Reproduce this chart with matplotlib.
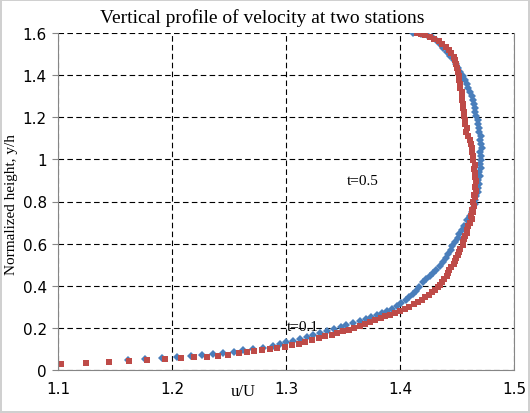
import numpy as np
import matplotlib
matplotlib.use("Agg")
import matplotlib.pyplot as plt

# series (x, y pairs)
red_x = [1.103, 1.125, 1.145, 1.162, 1.178, 1.194, 1.208, 1.219, 1.231, 1.240,
         1.249, 1.259, 1.266, 1.272, 1.279, 1.286, 1.292, 1.299,
         1.305, 1.311, 1.317, 1.323, 1.329, 1.334, 1.340, 1.345, 1.350, 1.355,
         1.360, 1.365, 1.369, 1.374, 1.378, 1.383, 1.387, 1.391, 1.396, 1.400,
         1.404, 1.408, 1.412, 1.416, 1.419, 1.422, 1.425, 1.428, 1.431, 1.433,
         1.435, 1.437, 1.439, 1.441, 1.442, 1.443, 1.445, 1.447, 1.448, 1.449,
         1.451, 1.452, 1.453, 1.455, 1.455, 1.456, 1.457, 1.459, 1.459, 1.460,
         1.461, 1.463, 1.462, 1.464, 1.463, 1.465, 1.464, 1.466, 1.465, 1.467,
         1.466, 1.467, 1.466, 1.466, 1.465, 1.466, 1.464, 1.464, 1.463, 1.463,
         1.462, 1.461, 1.460, 1.458, 1.459, 1.457, 1.457, 1.456, 1.456, 1.455,
         1.455, 1.454, 1.454, 1.454, 1.453, 1.453, 1.452, 1.452, 1.451, 1.450,
         1.449, 1.448, 1.447, 1.445, 1.443, 1.440, 1.437, 1.434, 1.430, 1.426,
         1.422, 1.418, 1.415]
red_y = [0.029, 0.033, 0.038, 0.043, 0.048, 0.052, 0.057, 0.062, 0.062, 0.067,
         0.071, 0.081, 0.086, 0.090, 0.095, 0.100, 0.105, 0.110,
         0.117, 0.124, 0.133, 0.143, 0.152, 0.160, 0.167, 0.176, 0.183, 0.190,
         0.200, 0.210, 0.219, 0.229, 0.238, 0.248, 0.255, 0.262, 0.271, 0.281,
         0.290, 0.300, 0.314, 0.324, 0.333, 0.345, 0.357, 0.369, 0.381, 0.395,
         0.405, 0.419, 0.433, 0.448, 0.462, 0.476, 0.490, 0.505, 0.519, 0.533,
         0.548, 0.562, 0.576, 0.595, 0.610, 0.624, 0.638, 0.652, 0.667, 0.686,
         0.700, 0.719, 0.733, 0.748, 0.762, 0.781, 0.800, 0.819, 0.833, 0.852,
         0.871, 0.895, 0.914, 0.933, 0.952, 0.971, 0.995, 1.014, 1.033, 1.052,
         1.071, 1.090, 1.110, 1.129, 1.148, 1.167, 1.186, 1.205, 1.224, 1.243,
         1.262, 1.281, 1.300, 1.319, 1.338, 1.357, 1.376, 1.395, 1.414, 1.433,
         1.452, 1.471, 1.486, 1.505, 1.519, 1.533, 1.548, 1.562, 1.571, 1.581,
         1.590, 1.595, 1.600]

blue_x = [1.161, 1.176, 1.191, 1.204, 1.217, 1.226, 1.236, 1.245, 1.254, 1.262,
          1.271, 1.280, 1.289, 1.295, 1.300, 1.306, 1.312, 1.318, 1.324, 1.330,
          1.336, 1.342, 1.348, 1.353, 1.359, 1.365, 1.370, 1.375, 1.380, 1.384,
          1.389, 1.393, 1.397, 1.401, 1.405, 1.408, 1.411, 1.414, 1.417, 1.420,
          1.423, 1.426, 1.429, 1.432, 1.435, 1.438, 1.440, 1.442, 1.445, 1.446,
          1.448, 1.451, 1.452, 1.454, 1.456, 1.459, 1.461, 1.463, 1.464, 1.466,
          1.466, 1.467, 1.468, 1.468, 1.469, 1.468, 1.470, 1.469, 1.471, 1.470,
          1.471, 1.471, 1.470, 1.472, 1.471, 1.470, 1.471, 1.469, 1.469, 1.468,
          1.468, 1.467, 1.466, 1.466, 1.465, 1.464, 1.463, 1.461, 1.460, 1.459,
          1.457, 1.455, 1.453, 1.451, 1.449, 1.447, 1.444, 1.441, 1.438, 1.435,
          1.432, 1.428, 1.424, 1.418, 1.411]
blue_y = [0.048, 0.052, 0.057, 0.062, 0.067, 0.071, 0.076, 0.081, 0.086, 0.095,
          0.100, 0.105, 0.114, 0.124, 0.131, 0.138, 0.148, 0.157, 0.167, 0.176,
          0.186, 0.195, 0.205, 0.214, 0.224, 0.233, 0.243, 0.252, 0.262, 0.271,
          0.281, 0.290, 0.305, 0.319, 0.333, 0.348, 0.362, 0.376, 0.395, 0.419,
          0.433, 0.448, 0.462, 0.476, 0.495, 0.514, 0.533, 0.552, 0.571, 0.590,
          0.610, 0.629, 0.648, 0.667, 0.686, 0.710, 0.729, 0.748, 0.767, 0.786,
          0.805, 0.824, 0.843, 0.862, 0.881, 0.900, 0.919, 0.938, 0.957, 0.976,
          0.995, 1.014, 1.033, 1.052, 1.071, 1.090, 1.110, 1.129, 1.148, 1.167,
          1.186, 1.205, 1.224, 1.243, 1.262, 1.281, 1.300, 1.319, 1.338, 1.357,
          1.376, 1.395, 1.414, 1.433, 1.452, 1.471, 1.490, 1.510, 1.529, 1.548,
          1.567, 1.581, 1.590, 1.595, 1.600]

x_ticks = [1.1, 1.2, 1.3, 1.4, 1.5]
y_ticks = [0, 0.2, 0.4, 0.6, 0.8, 1, 1.2, 1.4, 1.6]

title = "Vertical profile of velocity at two stations"
xlabel = "u/U"
ylabel = "Normalized height, y/h"
notes = [("t=0.5", 1.367, 0.90), ("t=0.1", 1.315, 0.205)]

fig = plt.figure(figsize=(5.3, 4.14), dpi=100)
fig.patch.set_edgecolor("#d0d0d0")
fig.patch.set_linewidth(1.5)
ax = fig.add_axes([58/530, 43/414, 456/530, 337/414])

ax.plot(blue_x, blue_y, "D", color="#4a7ebb", markersize=4.3, markeredgewidth=0)
ax.plot(red_x, red_y, "s", color="#be4b48", markersize=4.6, markeredgewidth=0)

ax.set_xlim(1.1, 1.5)
ax.set_ylim(0, 1.6)
ax.set_xticks(x_ticks)
ax.set_yticks(y_ticks)
ax.set_xticklabels(["%.1f" % v for v in x_ticks])
ax.set_yticklabels(["%g" % v for v in y_ticks])
ax.grid(True, color="black", linestyle=(0, (5, 3)), linewidth=0.8)
ax.set_axisbelow(True)
for s in ax.spines.values():
    s.set_color("#868686")
    s.set_linewidth(0.8)
ax.spines["top"].set_visible(False)
ax.tick_params(axis="x", length=0, pad=8, labelsize=11)
ax.tick_params(axis="y", length=4, color="#868686", labelsize=11, pad=4)

for txt, x, y in notes:
    ax.text(x, y, txt, fontsize=11, family="Liberation Serif", ha="center", va="center")

fig.text(262/530, 1 - 18/414, title, fontsize=14, family="Liberation Serif",
         ha="center", va="center")
fig.text(243/530, 1 - 392/414, xlabel, fontsize=12, family="Liberation Serif",
         ha="center", va="center")
fig.text(12/530, 1 - 205/414, ylabel, fontsize=11, family="Liberation Serif",
         ha="center", va="center", rotation=90)

fig.savefig("out.png", dpi=100)
